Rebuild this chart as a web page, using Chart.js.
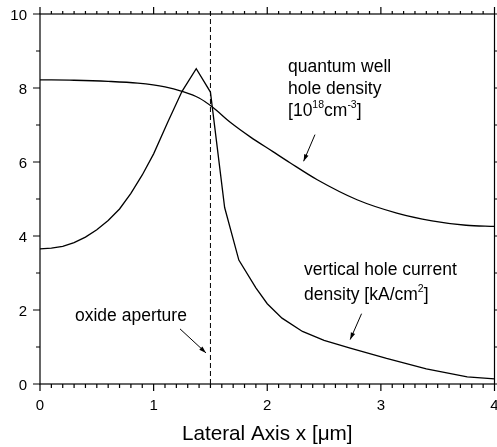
<!DOCTYPE html>
<html>
<head>
<meta charset="utf-8">
<script src="https://cdn.jsdelivr.net/npm/chart.js@4.4.1/dist/chart.umd.min.js"></script>
<style>
  html, body { margin: 0; padding: 0; background: #fff; }
  #wrap { width: 497px; height: 447px; }
</style>
</head>
<body>
<div id="wrap"><canvas id="holeChart" width="497" height="447"></canvas></div>
<script>
// Data
const qwX = [0, 0.3, 0.6, 0.86, 1.1, 1.25, 1.4, 1.52, 1.68, 1.85, 2.05, 2.2, 2.44, 2.79, 3.14, 3.45, 3.75, 4.0];
const qwDensity = [8.22, 8.21, 8.18, 8.13, 8.03, 7.91, 7.73, 7.48, 7.06, 6.68, 6.28, 5.98, 5.52, 4.98, 4.62, 4.41, 4.29, 4.26];

const currentX = [0, 0.1, 0.2, 0.3, 0.4, 0.5, 0.6, 0.7, 0.8, 0.9, 1.0, 1.125, 1.25, 1.375, 1.5, 1.625, 1.75, 1.9, 2.0, 2.13, 2.31, 2.5, 2.73, 3.05, 3.4, 3.76, 4.0];
const currentDensity = [3.65, 3.67, 3.72, 3.82, 3.97, 4.17, 4.42, 4.73, 5.15, 5.65, 6.22, 7.08, 7.91, 8.52, 7.89, 4.77, 3.35, 2.6, 2.17, 1.78, 1.42, 1.18, 0.97, 0.69, 0.41, 0.19, 0.14];

const apertureX = 1.5;

const xTickLabels = [0, 1, 2, 3, 4];
const yTickLabels = [0, 2, 4, 6, 8, 10];
const xTitle = "Lateral Axis x [\u03bcm]";

const FONT = '"Liberation Sans", Arial, Helvetica, sans-serif';

// Text labels inside the plot (x, y in data units, at the text baseline)
const notes = [
  { x: 2.183, y: 8.44, parts: [{ t: "quantum well" }] },
  { x: 2.183, y: 7.85, parts: [{ t: "hole density" }] },
  { x: 2.183, y: 7.25, parts: [{ t: "[10" }, { t: "18", sup: true }, { t: "cm" }, { t: "-3", sup: true }, { t: "]" }] },
  { x: 2.324, y: 2.95, parts: [{ t: "vertical hole current" }] },
  { x: 2.324, y: 2.28, parts: [{ t: "density [kA/cm" }, { t: "2", sup: true }, { t: "]" }] },
  { x: 0.308, y: 1.70, parts: [{ t: "oxide aperture" }] },
];

// Arrows: from (x1,y1) to (x2,y2) in data units
const arrows = [
  [2.42, 6.74, 2.32, 6.02],
  [2.83, 1.90, 2.73, 1.20],
  [1.232, 1.49, 1.461, 0.84],
];

function drawRich(ctx, parts, x, y, size) {
  let cx = x;
  parts.forEach((p) => {
    const s = p.sup ? size * 0.6 : size;
    ctx.font = s + "px " + FONT;
    ctx.fillText(p.t, cx, p.sup ? y - size * 0.42 : y);
    cx += ctx.measureText(p.t).width;
  });
}

function drawArrow(ctx, x1, y1, x2, y2) {
  ctx.beginPath();
  ctx.moveTo(x1, y1);
  ctx.lineTo(x2, y2);
  ctx.stroke();
  const a = Math.atan2(y2 - y1, x2 - x1);
  const len = 7, w = 2.3;
  ctx.beginPath();
  ctx.moveTo(x2, y2);
  ctx.lineTo(x2 - len * Math.cos(a) + w * Math.sin(a), y2 - len * Math.sin(a) - w * Math.cos(a));
  ctx.lineTo(x2 - len * Math.cos(a) - w * Math.sin(a), y2 - len * Math.sin(a) + w * Math.cos(a));
  ctx.closePath();
  ctx.fill();
}

// Frame, ticks, labels and notes
const framePlugin = {
  id: "frame",
  afterDatasetsDraw(chart) {
    const ctx = chart.ctx;
    const xs = chart.scales.x;
    const ys = chart.scales.y;
    const { left, right, top, bottom } = chart.chartArea;

    ctx.save();
    ctx.strokeStyle = "#000";
    ctx.fillStyle = "#000";
    ctx.lineWidth = 1.2;
    ctx.strokeRect(left, top, right - left, bottom - top);

    ctx.beginPath();
    for (let i = 0; i <= 40; i++) {
      const px = xs.getPixelForValue(i / 10);
      const major = i % 10 === 0;
      ctx.moveTo(px, bottom);
      ctx.lineTo(px, bottom + (major ? 7 : 4));
      ctx.moveTo(px, top);
      ctx.lineTo(px, top - (major ? 7 : 3));
    }
    for (let i = 0; i <= 10; i++) {
      const py = ys.getPixelForValue(i);
      const major = i % 2 === 0;
      ctx.moveTo(left, py);
      ctx.lineTo(left - (major ? 7 : 4), py);
      ctx.moveTo(right, py);
      ctx.lineTo(right + (major ? 7 : 4), py);
    }
    ctx.stroke();

    // tick labels
    ctx.font = "15px " + FONT;
    ctx.textBaseline = "alphabetic";
    ctx.textAlign = "center";
    xTickLabels.forEach((v) => {
      ctx.fillText(String(v), xs.getPixelForValue(v), bottom + 26);
    });
    ctx.textAlign = "right";
    yTickLabels.forEach((v) => {
      ctx.fillText(String(v), left - 13, ys.getPixelForValue(v) + 5.5);
    });

    // axis title
    ctx.font = "20.7px " + FONT;
    ctx.textAlign = "center";
    ctx.fillText(xTitle, (left + right) / 2, 440);

    // notes
    ctx.textAlign = "left";
    notes.forEach((n) => {
      drawRich(ctx, n.parts, xs.getPixelForValue(n.x), ys.getPixelForValue(n.y), 17.5);
    });

    ctx.lineWidth = 1;
    arrows.forEach((a) => {
      drawArrow(ctx, xs.getPixelForValue(a[0]), ys.getPixelForValue(a[1]),
        xs.getPixelForValue(a[2]), ys.getPixelForValue(a[3]));
    });
    ctx.restore();
  },
};

const ctx = document.getElementById("holeChart").getContext("2d");
new Chart(ctx, {
  type: "line",
  data: {
    datasets: [
      {
        label: "quantum well hole density",
        data: qwX.map((x, i) => ({ x: x, y: qwDensity[i] })),
        borderColor: "#000",
        borderWidth: 1.3,
        pointRadius: 0,
        cubicInterpolationMode: "monotone",
      },
      {
        label: "vertical hole current density",
        data: currentX.map((x, i) => ({ x: x, y: currentDensity[i] })),
        borderColor: "#000",
        borderWidth: 1.3,
        pointRadius: 0,
        tension: 0,
      },
      {
        label: "oxide aperture",
        data: [{ x: apertureX, y: 0 }, { x: apertureX, y: 10 }],
        borderColor: "#000",
        borderWidth: 1,
        borderDash: [5, 3],
        pointRadius: 0,
      },
    ],
  },
  options: {
    responsive: false,
    devicePixelRatio: 1,
    animation: false,
    events: [],
    layout: { padding: { left: 40, top: 14, right: 2.5, bottom: 63 } },
    plugins: { legend: { display: false }, tooltip: { enabled: false } },
    scales: {
      x: { type: "linear", min: 0, max: 4, display: false },
      y: { type: "linear", min: 0, max: 10, display: false },
    },
  },
  plugins: [framePlugin],
});
</script>
</body>
</html>
